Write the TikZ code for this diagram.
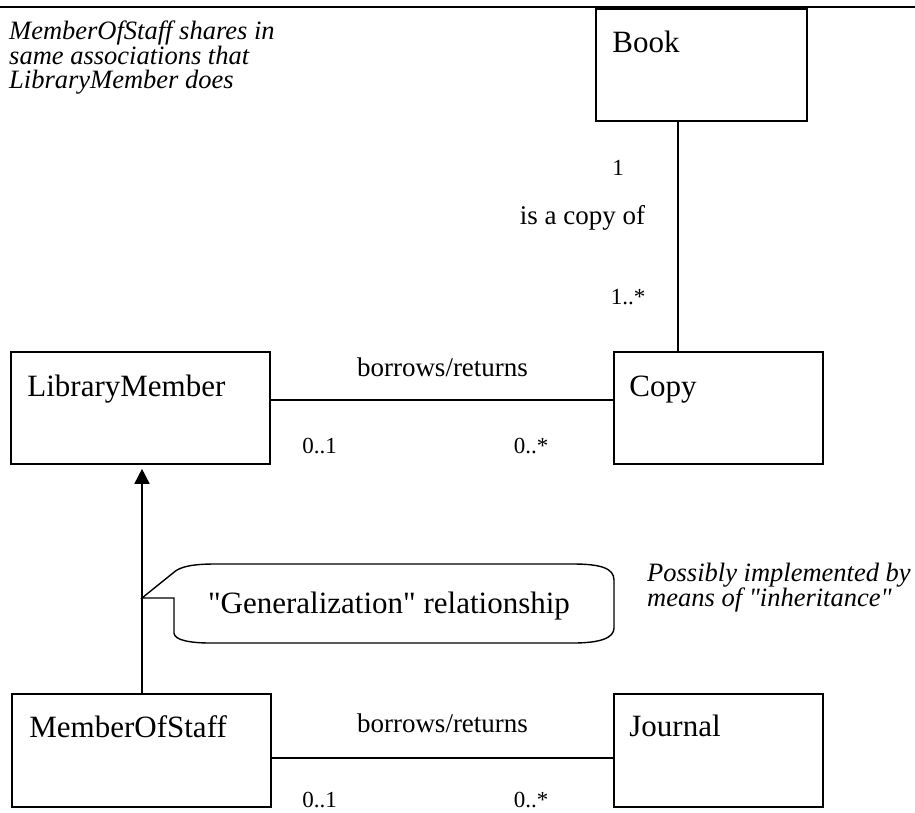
\documentclass[tikz,border=0pt]{standalone}
\usepackage{fontspec}
\setmainfont{Liberation Serif}
\usetikzlibrary{arrows.meta}

\tikzset{
  classbox/.style={draw, line width=1.6pt, minimum height=112pt, inner sep=0pt},
  classname/.style={inner sep=0pt, anchor=base west, font=\fontsize{31}{31}\selectfont},
  assoc/.style={line width=1.6pt},
  assoclabel/.style={inner sep=0pt, font=\fontsize{27}{27}\selectfont},
  mult/.style={inner sep=0pt, font=\fontsize{23}{23}\selectfont},
  note/.style={inner sep=0pt, anchor=north west, align=left, font=\itshape\fontsize{26.5}{24.5}\selectfont},
  genarrow/.style={line width=1.6pt, -{Triangle[length=15pt,width=15pt]}, shorten >=4pt},
}

\begin{document}
\begin{tikzpicture}[x=1pt,y=-1pt]
\useasboundingbox (0,0) rectangle (915,812) ;
\draw[line width=1.6pt] (0,7) -- (915,7) ;
% classes
\node[classbox, minimum width=211pt] (book) at (701.5,65) {} ;
\node[classbox, minimum width=259pt] (libmember) at (140.5,408) {} ;
\node[classbox, minimum width=209pt] (copy) at (718.5,408) {} ;
\node[classbox, minimum width=259pt, minimum height=113pt] (staff) at (141.5,750.5) {} ;
\node[classbox, minimum width=209pt, minimum height=113pt] (journal) at (718.5,750.5) {} ;
\node[classname] (booktxt) at ([shift={(17,44)}]book.north west) {Book} ;
\node[classname] (libmembertxt) at ([shift={(17,45)}]libmember.north west) {LibraryMember} ;
\node[classname] (copytxt) at ([shift={(16,45)}]copy.north west) {Copy} ;
\node[classname] (stafftxt) at ([shift={(18,44)}]staff.north west) {MemberOfStaff} ;
\node[classname] (journaltxt) at ([shift={(16,43)}]journal.north west) {Journal} ;
% associations
\draw[assoc] ([xshift=-23.5pt]book.south) -- ([xshift=-23.5pt]book.south |- copy.north) ;
\node[mult] (m1) at (618,168) {1} ;
\node[assoclabel] (copyof) at (582.5,218) {is a copy of} ;
\node[mult] (m2) at (628,297) {1..*} ;
\draw[assoc] ([yshift=8pt]libmember.east) -- ([yshift=8pt]libmember.east -| copy.west) ;
\node[assoclabel] (borrow1) at (442.5,367) {borrows/returns} ;
\node[mult] (m3) at (319.5,446) {0..1} ;
\node[mult] (m4) at (531,446) {0..*} ;
\draw[assoc] ([yshift=-7.5pt]staff.east) -- ([yshift=-7.5pt]staff.east -| journal.west) ;
\node[assoclabel] (borrow2) at (442.5,723) {borrows/returns} ;
\node[mult] (m5) at (319.5,800) {0..1} ;
\node[mult] (m6) at (531,800) {0..*} ;
% generalization
\draw[genarrow] ([xshift=0.5pt]staff.north) -- ([xshift=0.5pt]staff.north |- libmember.south) ;
\coordinate (gen) at ([xshift=0.5pt]staff.north |- 0,598) ;
\draw[line width=1.4pt] (gen) -- (173,573) .. controls (180,566) and (195,564) .. (215,564)
  -- (573,564) .. controls (600,564) and (614,568) .. (614,580)
  -- (614,628) .. controls (614,638) and (600,643) .. (573,643)
  -- (210,643) .. controls (190,643) and (174,640) .. (174,633)
  -- (174,598) -- cycle ;
\node[inner sep=0pt, font=\fontsize{31}{31}\selectfont] (gentxt) at (389,606) {\textquotedbl Generalization\textquotedbl{} relationship} ;
% notes
\node[note] (note1) at (9,21) {MemberOfStaff shares in\\same associations that\\LibraryMember does} ;
\node[note] (note2) at (647,563) {Possibly implemented by\\means of \textquotedbl inheritance\textquotedbl} ;
\end{tikzpicture}
\end{document}
